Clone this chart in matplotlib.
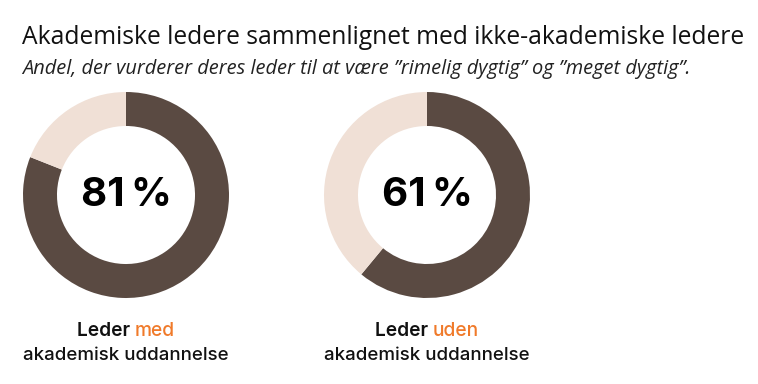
import matplotlib as mpl
mpl.use('Agg')
import matplotlib.pyplot as plt

# data
shares = [81, 61]
group_word = ["med", "uden"]
line2 = "akademisk uddannelse"
title = "Akademiske ledere sammenlignet med ikke-akademiske ledere"
subtitle = "Andel, der vurderer deres leder til at være \u201drimelig dygtig\u201d og \u201dmeget dygtig\u201d."

dark = "#5a4a42"
light = "#f0e0d6"
orange = "#f07a2a"
txt = "#111111"

plt.rcParams['font.family'] = ['Open Sans', 'DejaVu Sans']

W, H = 758, 384
fig = plt.figure(figsize=(W / 100, H / 100), dpi=100)
renderer = fig.canvas.get_renderer()


def fit(t, target):
    # scale font size so the text spans the target pixel width
    w = t.get_window_extent(renderer).width
    t.set_fontsize(t.get_fontsize() * target / w)


t = fig.text(22 / W, 1 - 37 / H, title, fontsize=16, color=txt, va='center', ha='left')
fit(t, 724)
t = fig.text(22 / W, 1 - 69 / H, subtitle, fontsize=12.5, style='italic', color='#222222',
             va='center', ha='left')
fit(t, 668)

centers = [126, 427]
radius = 103
cy = 195

for i, val in enumerate(shares):
    cx = centers[i]
    ax = fig.add_axes([(cx - radius) / W, (H - cy - radius) / H, 2 * radius / W, 2 * radius / H])
    ax.pie([val, 100 - val], colors=[dark, light], startangle=90, counterclock=False,
           radius=1, wedgeprops=dict(width=0.33, linewidth=0))
    ax.set_xlim(-1, 1)
    ax.set_ylim(-1, 1)
    ax.set_aspect('equal')
    ax.axis('off')
    ax.text(0, 0, f"{val}\u2009%", fontsize=29, fontweight='bold', ha='center', va='center',
            color='black', family=['Inter', 'DejaVu Sans'])

    # label line 1 with coloured word
    y1 = 1 - 331 / H
    t1 = fig.text(0, y1, "Leder ", fontsize=13.8, fontweight='semibold', color=txt, va='center',
                  family=['Inter', 'DejaVu Sans'])
    t2 = fig.text(0, y1, group_word[i], fontsize=13.8, fontweight='medium', color=orange,
                  va='center', family=['Inter', 'DejaVu Sans'])
    w1 = t1.get_window_extent(renderer).width
    w2 = t2.get_window_extent(renderer).width
    start = cx - (w1 + w2) / 2
    t1.set_x(start / W)
    t2.set_x((start + w1) / W)
    t3 = fig.text(cx / W, 1 - 355 / H, line2, fontsize=13, fontweight='medium', color=txt,
                  ha='center', va='center', family=['Inter', 'DejaVu Sans'])
    fit(t3, 205)

fig.savefig("out.png", dpi=100, facecolor='white')
